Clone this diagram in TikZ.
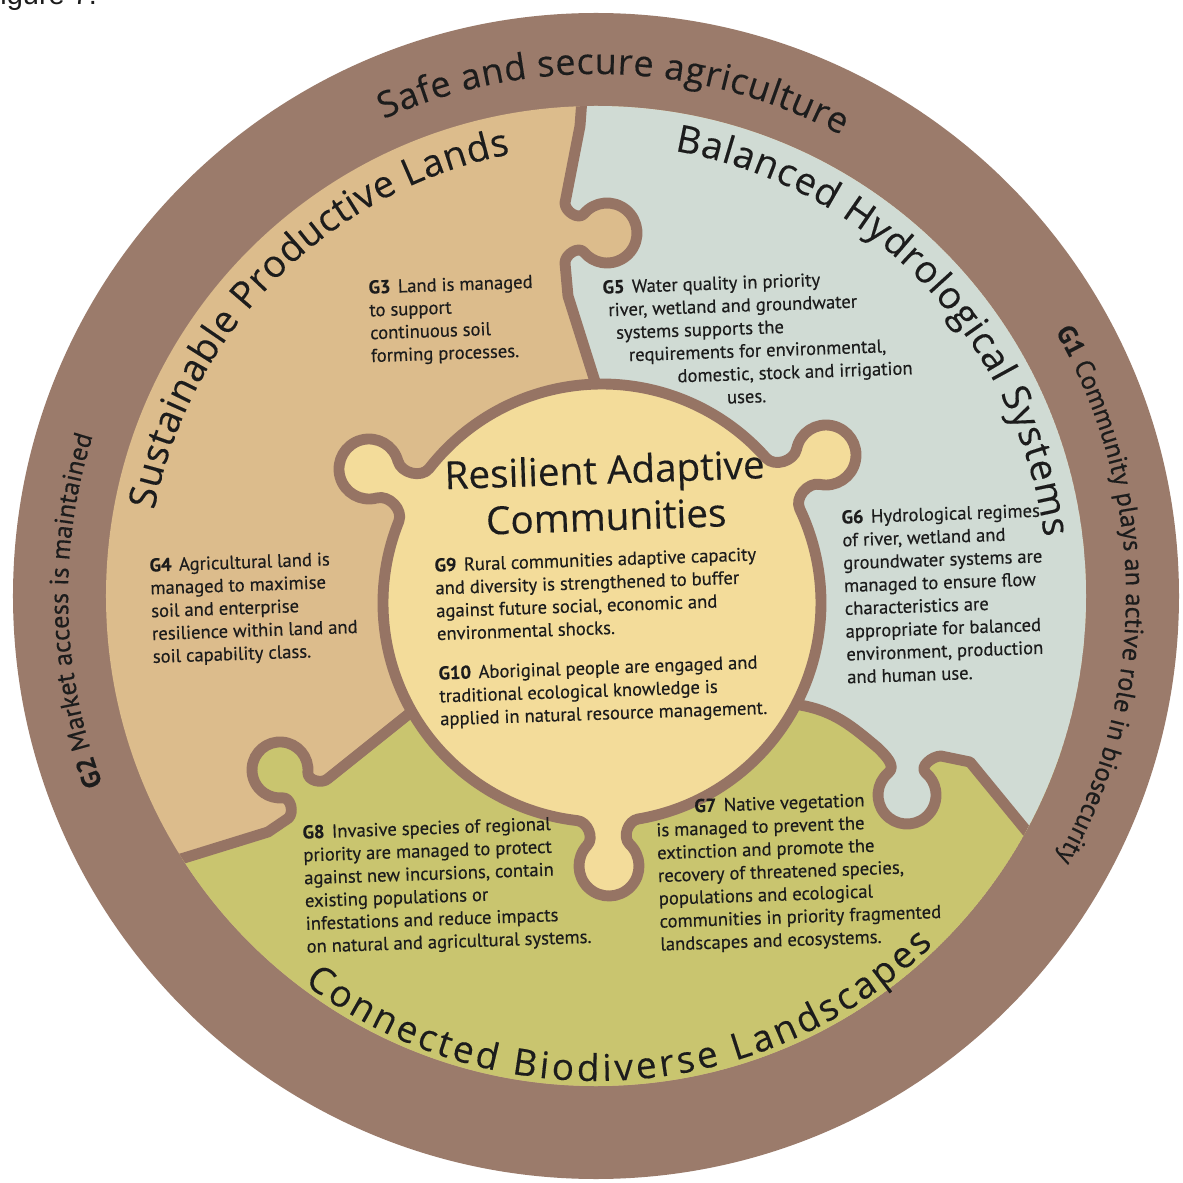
\documentclass[tikz,border=0pt]{standalone}
\usepackage{fontspec}
\setmainfont{PT Sans}
\newfontfamily\bodyfont[FakeBold=0.4]{PT Sans}
\newfontfamily\titlefont[FakeBold=0.25]{Open Sans}
\newfontfamily\figfont{Liberation Sans}
\usetikzlibrary{calc,decorations.text}
\definecolor{ringbrown}{HTML}{9B7B6B}
\definecolor{linebrown}{HTML}{967464}
\definecolor{tanfill}{HTML}{DCBC8C}
\definecolor{greyfill}{HTML}{D0DBD4}
\definecolor{greenfill}{HTML}{C9C56F}
\definecolor{centrefill}{HTML}{F3DC9A}
\definecolor{txt}{HTML}{1C1C1C}
\newlength\px
\setlength\px{0.5669pt}
\newcommand\glabel[1]{\textbf{#1}\hspace{0.4em}}
\newcommand\ringbold{\bodyfont\fontsize{15}{15}\selectfont\bfseries\color{txt}}
\newcommand\ringreg{\bodyfont\fontsize{15}{15}\selectfont\mdseries\color{txt}}
% boundaries between the outer pieces (each with its puzzle knob)
\def\Bone{(-6,606) -- (-16,470) -- (-31,393) to[out=270,in=230] (-11.98,382.28) arc[start angle=140,end angle=-140,radius=30] to[out=130,in=90] (-31,333) -- (-28,300) -- (2,205) -- (6,150)}
\def\Btwo{(164,-94) -- (204,-109) to[out=-10,in=140] (282,-152) to[out=-45,in=40] (292.4,-176.8) arc[start angle=130,end angle=410,radius=29] to[out=140,in=180] (345,-160) -- (374,-166) -- (524,-349) -- (584,-424)}
\def\Bthree{(-156,-94) -- (-186,-117) -- (-267.9,-182.5) to[out=225,in=-95] (-288.1,-176.4) arc[start angle=-5,end angle=275,radius=28] to[out=5,in=45] (-307.5,-222.1) -- (-328,-236) -- (-412,-262) -- (-556,-304)}
\begin{document}
\begin{tikzpicture}[x=0.02cm,y=0.02cm,
  bodytext/.style={font=\bodyfont\fontsize{10.6}{13}\selectfont, text=txt, align=left, anchor=north west, inner sep=0pt, rotate=2},
  outline/.style={draw=linebrown, line width=6.2pt, line join=round},
  arctext/.style={decorate, decoration={text along path, text align=fit to path, text={#1}}},
  ringtext/.style={decorate, decoration={text along path, text align=center, text={#1}}},
]
\fill[white] (-596,-587) rectangle (587,596);
\useasboundingbox (-596,-587) rectangle (587,596);

% outer ring
\fill[ringbrown] (0,0) circle[radius=583];

\begin{scope}
\clip (0,0) circle[radius=490];
\fill[tanfill] (0,0) circle[radius=490];
% Connected Biodiverse Landscapes (green), its knob bulges into the tan piece
\fill[greenfill] (6,-7) -- \Bthree -- (-700,-700) -- (700,-700) -- (700,-300) -- (300,-50) -- cycle;
% Balanced Hydrological Systems (grey), its knob bulges into the green piece
\fill[greyfill] (6,-7) -- \Btwo -- (700,-424) -- (700,700) -- (-6,700) -- \Bone -- cycle;
% boundary lines
\draw[outline] \Bone;
\draw[outline] \Btwo;
\draw[outline] \Bthree;
\end{scope}

% centre piece with three knobs
\coordinate (C) at (6,-7);
\coordinate (KUR) at (230,141);
\coordinate (KUL) at (-227,127);
\coordinate (KB) at (13,-270);
\path[fill=centrefill, draw=linebrown, line width=6.2pt, line join=round]
  ($(C)+(-80.5:219)$) arc[start angle=-80.5, end angle=25.46, radius=219]
  to[out=115.46, in=168.46] ($(KUR)+(258.46:30)$) arc[start angle=258.46, end angle=528.46, radius=30]
  to[out=258.46, in=311.46] ($(C)+(41.46:219)$) arc[start angle=41.46, end angle=142.1, radius=219]
  to[out=232.1, in=-74.9] ($(KUL)+(15.1:30)$) arc[start angle=15.1, end angle=285.1, radius=30]
  to[out=15.1, in=68.1] ($(C)+(158.1:219)$) arc[start angle=158.1, end angle=263.5, radius=219]
  to[out=353.5, in=46.5] ($(KB)+(136.5:30)$) arc[start angle=136.5, end angle=406.5, radius=30]
  to[out=136.5, in=189.5] ($(C)+(-80.5:219)$) -- cycle;

% arc titles
\path[arctext={|\titlefont\fontsize{20.5}{20.5}\selectfont\color{txt}|Safe and secure agriculture}] (114:522) arc[start angle=114, end angle=62, radius=522];
\path[arctext={|\titlefont\fontsize{21.5}{21.5}\selectfont\color{txt}|Sustainable Productive Lands}] (169:450) arc[start angle=169, end angle=101, radius=450];
\path[arctext={|\titlefont\fontsize{21.5}{21.5}\selectfont\color{txt}|Balanced Hydrological Systems}] (80:452) arc[start angle=80, end angle=7.5, radius=452];
\path[arctext={|\titlefont\fontsize{21}{21}\selectfont\color{txt}|Connected Biodiverse Landscapes}] (233:485) arc[start angle=233, end angle=314, radius=485];
% ring goals
\path[ringtext={|\ringbold|G1|\ringreg| Community plays an active role in biosecurity}] (45:530) arc[start angle=45, end angle=-44.7, radius=530];
\path[ringtext={|\ringbold|G2|\ringreg| Market access is maintained}] (226.65:528) arc[start angle=226.65, end angle=136.65, radius=528];

% centre title
\node[font=\titlefont\fontsize{22}{26.6}\selectfont, text=txt, align=center, anchor=north, inner sep=0pt, rotate=2] (title) at (8,142) {Resilient Adaptive\\Communities};

% body texts
\node[bodytext] (g3) at (-228,316) {\glabel{G3}Land is managed\\to support\\continuous soil\\forming processes.};
\node[bodytext] (g5) at (6,316) {\glabel{G5}Water quality in priority\\\hspace*{5\px}river, wetland and groundwater\\\hspace*{12\px}systems supports the\\\hspace*{24\px}requirements for environmental,\\\hspace*{72\px}domestic, stock and irrigation\\\hspace*{121\px}uses.};
\node[bodytext] (g4) at (-447,38) {\glabel{G4}Agricultural land is\\managed to maximise\\soil and enterprise\\resilience within land and\\soil capability class.};
\node[bodytext] (g6) at (245,86) {\glabel{G6}Hydrological regimes\\of river, wetland and\\groundwater systems are\\managed to ensure flow\\characteristics are\\appropriate for balanced\\environment, production\\and human use.};
\node[bodytext] (g9) at (-162,38) {\glabel{G9}Rural communities adaptive capacity\\and diversity is strengthened to buffer\\against future social, economic and\\environmental shocks.};
\node[bodytext] (g10) at (-158,-70) {\glabel{G10}Aboriginal people are engaged and\\traditional ecological knowledge is\\applied in natural resource management.};
\node[bodytext] (g8) at (-294,-229) {\glabel{G8}Invasive species of regional\\priority are managed to protect\\against new incursions, contain\\existing populations or\\infestations and reduce impacts\\on natural and agricultural systems.};
\node[bodytext] (g7) at (59,-204) {\hspace*{39\px}\glabel{G7}Native vegetation\\is managed to prevent the\\extinction and promote the\\recovery of threatened species,\\populations and ecological\\communities in priority fragmented\\landscapes and ecosystems.};

% figure caption (cut off at the top edge)
\node[font=\figfont\fontsize{16.5}{18}\selectfont, text=txt, anchor=base west, inner sep=0pt] (fig) at (-613.7,591) {Figure 7.};
\end{tikzpicture}
\end{document}
